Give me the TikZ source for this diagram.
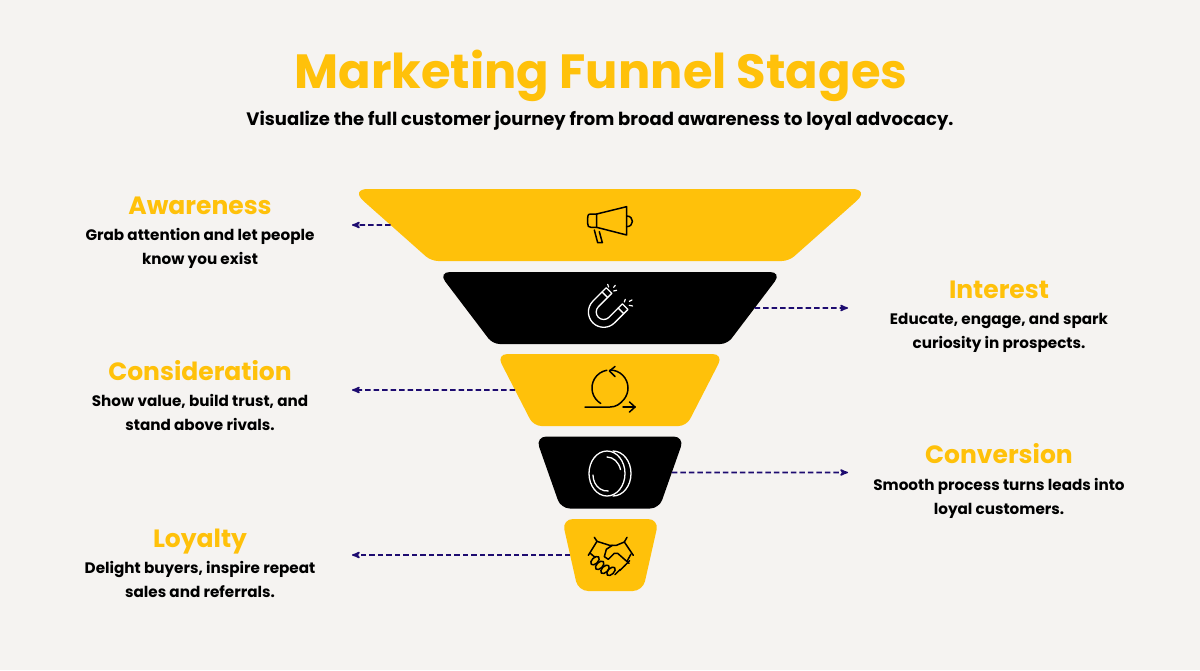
\documentclass[tikz,border=0pt]{standalone}
\usepackage{fontspec}
\setmainfont{Poppins}
\usetikzlibrary{arrows,shapes.geometric}
\definecolor{paper}{HTML}{F5F3F1}
\definecolor{gold}{HTML}{FFC10A}
\definecolor{navy}{HTML}{1D0B70}
\begin{document}
\begin{tikzpicture}[x=1pt,y=-1pt]
	\tikzstyle{stage}=[trapezium, shape border rotate=180, trapezium stretches body=true, inner sep=0pt, outer sep=0pt, text width=1pt, text height=72pt, text depth=0pt]
	\tikzstyle{head}=[text=gold, anchor=base, font=\fontsize{25}{25}\selectfont\bfseries]
	\tikzstyle{body}=[align=center, font=\fontsize{15.2}{24}\selectfont\bfseries]
	\tikzstyle{link}=[navy, line width=1.6pt, dash pattern=on 5.5pt off 3pt, ->, >=stealth']
	\tikzstyle{icon}=[line width=1.5pt, line cap=round, line join=round]
	\fill[paper] (0,0) rectangle (1200,670);
	\useasboundingbox (0,0) rectangle (1200,670);
	\node (title) at (601,76) [text=gold, font=\fontsize{48}{48}\selectfont\bfseries] {Marketing Funnel Stages};
	\node (subtitle) at (600,121) [font=\fontsize{18}{18}\selectfont\bfseries] {Visualize the full customer journey from broad awareness to loyal advocacy.};
	% funnel
	\draw (610,225) node (s1) [stage, minimum width=520pt, trapezium left angle=41.6, trapezium right angle=41.6] {};
	\draw (610,308) node (s2) [stage, minimum width=344pt, trapezium left angle=52.8, trapezium right angle=52.8] {};
	\draw (610,390) node (s3) [stage, minimum width=227pt, trapezium left angle=62.8, trapezium right angle=62.8] {};
	\draw (610,472.5) node (s4) [stage, minimum width=149pt, trapezium left angle=70.6, trapezium right angle=70.6] {};
	\draw (610.5,555) node (s5) [stage, minimum width=97pt, trapezium left angle=77.3, trapezium right angle=77.3] {};
	\fill[gold] (s1.north) [rounded corners=18pt] -- (s1.bottom right corner) [rounded corners=7pt] -- (s1.top right corner) -- (s1.top left corner) [rounded corners=18pt] -- (s1.bottom left corner) -- cycle;
	\fill[black] (s2.north) [rounded corners=12pt] -- (s2.bottom right corner) [rounded corners=7pt] -- (s2.top right corner) -- (s2.top left corner) [rounded corners=12pt] -- (s2.bottom left corner) -- cycle;
	\fill[gold] (s3.north) [rounded corners=11pt] -- (s3.bottom right corner) [rounded corners=8pt] -- (s3.top right corner) -- (s3.top left corner) [rounded corners=11pt] -- (s3.bottom left corner) -- cycle;
	\fill[black] (s4.north) [rounded corners=11pt] -- (s4.bottom right corner) [rounded corners=9pt] -- (s4.top right corner) -- (s4.top left corner) [rounded corners=11pt] -- (s4.bottom left corner) -- cycle;
	\fill[gold] (s5.north) [rounded corners=11pt] -- (s5.bottom right corner) [rounded corners=10pt] -- (s5.top right corner) -- (s5.top left corner) [rounded corners=11pt] -- (s5.bottom left corner) -- cycle;
	% arrows
	\coordinate (e1) at (352,225);
	\coordinate (e2) at (848,308);
	\coordinate (e3) at (352,390);
	\coordinate (e4) at (848,472.5);
	\coordinate (e5) at (352,555);
	\draw[link] (s1.west) -- (e1);
	\draw[link] (s2.east) -- (e2);
	\draw[link] (s3.west) -- (e3);
	\draw[link] (s4.east) -- (e4);
	\draw[link] (s5.west) -- (e5);
	% labels
	\node (h1) at (200,214) [head] {Awareness};
	\node (t1) at (200,248) [body] {Grab attention and let people\\know you exist};
	\node (h2) at (999,298) [head] {Interest};
	\node (t2) at (999,333) [body] {Educate, engage, and spark\\curiosity in prospects.};
	\node (h3) at (200,380) [head] {Consideration};
	\node (t3) at (200,412.5) [body] {Show value, build trust, and\\stand above rivals.};
	\node (h4) at (999,463) [head] {Conversion};
	\node (t4) at (999,498) [body] {Smooth process turns leads into\\loyal customers.};
	\node (h5) at (200,547) [head] {Loyalty};
	\node (t5) at (200,579) [body] {Delight buyers, inspire repeat\\sales and referrals.};
	% megaphone
	\begin{scope}[shift={(575,200)},x=.3333pt,y=-.3333pt]
	\draw[icon] (65,42) -- (155,20) -- (155,105) -- (65,82) -- cycle;
	\draw[icon] (65,42) -- (48,42) .. controls (38,42) and (38,48) .. (38,54) -- (38,70) .. controls (38,78) and (40,82) .. (48,82) -- (65,82);
	\draw[icon] (155,48) .. controls (178,48) and (178,80) .. (155,80);
	\draw[icon] (58,90) -- (68,128) -- (82,128) -- (73,95);
	\end{scope}
	% magnet
	\begin{scope}[shift={(603.7,312)},x=1pt,y=1pt,rotate=45]
	\draw[icon,white,line width=1.3pt] (19,15.3) -- (0,15.3) arc[start angle=90,end angle=270,radius=15.3pt] -- (19,-15.3) -- (19,-7.5) -- (0,-7.5) arc[start angle=270,end angle=90,radius=7.5pt] -- (19,7.5) -- cycle;
	\draw[icon,white,line width=1.3pt] (13,15.3) -- (13,7.5);
	\draw[icon,white,line width=1.3pt] (13,-15.3) -- (13,-7.5);
	\end{scope}
	\begin{scope}[shift={(340,180)},x=.3333pt,y=-.3333pt]
	\foreach \a/\b/\c/\d in {803/313/806/321, 826/316/821/322, 830/331/821/333, 856/358/853/366, 876/360/868/364, 878/378/868/376}
		\draw[icon,white,line width=1.2pt] (\a,\b) -- (\c,\d);
	\end{scope}
	% loop
	\draw[icon] (600.7,403.4) arc[start angle=239,end angle=100,radius=18pt];
	\draw[icon] (610,370) arc[start angle=90,end angle=-40,radius=18pt] .. controls (620,404) and (616,407) .. (610,407) -- (585,407);
	\draw[icon] (615,366.5) -- (609.5,371) -- (615,376.5);
	\draw[icon] (623,407) -- (635,407);
	\draw[icon] (629.5,402) -- (635,407) -- (629.5,412);
	% coin
	\draw[icon,white,line width=1.3pt] (607,473.5) ellipse [x radius=18pt, y radius=22.5pt];
	\draw[icon,white,line width=1.3pt] (613,451) arc[start angle=90,end angle=-90,x radius=18pt,y radius=22.5pt];
	\draw[icon,white,line width=1.3pt] (607,457) arc[start angle=90,end angle=15,x radius=14pt,y radius=17pt];
	\draw[icon,white,line width=1.3pt] (593,475) arc[start angle=180,end angle=275,x radius=14pt,y radius=16pt];
	% handshake
	\begin{scope}[shift={(575,530)},x=.3333pt,y=-.3333pt]
	\draw[icon] (58,22) -- (66,34) -- (40,76);
	\draw[icon] (156,22) -- (148,36) -- (175,76);
	\draw[icon] (66,34) -- (104,46) -- (124,46) -- (148,36);
	\draw[icon] (112,46) -- (94,58) -- (88,80) -- (100,88) -- (118,70) -- (128,70) -- (162,100);
	\draw[icon] (46,70) -- (60,82);
	\draw[icon] (168,72) -- (156,94);
	\foreach \a/\b in {60/92, 74/106, 90/118, 108/124}
		\draw[icon,shift={(\a,\b)},rotate=45] (0,0) ellipse [x radius=5.2pt, y radius=3pt];
	\foreach \a/\b in {156/100, 142/114, 128/126}
		\draw[icon] (\a-8,\b+8) -- (\a+8,\b-8);
	\end{scope}
\end{tikzpicture}
\end{document}
